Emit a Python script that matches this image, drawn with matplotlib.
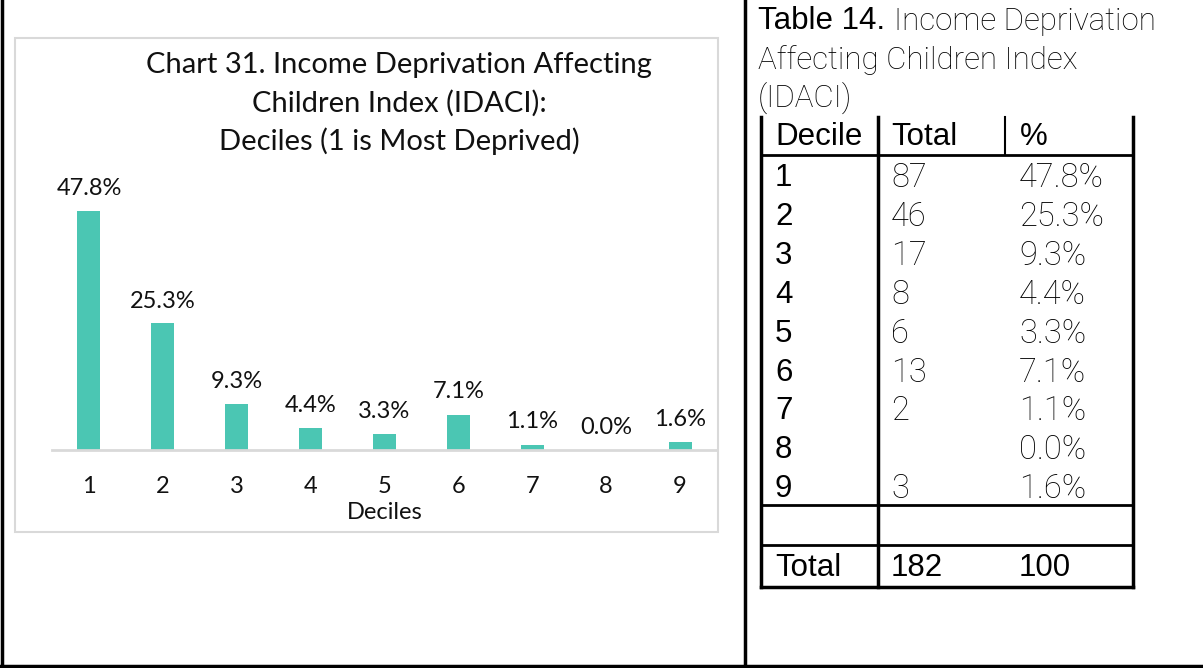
import matplotlib
matplotlib.use('Agg')
import matplotlib.pyplot as plt
from matplotlib.lines import Line2D
from matplotlib.patches import Rectangle

# chart data
deciles = ['1', '2', '3', '4', '5', '6', '7', '8', '9']
pct = [47.8, 25.3, 9.3, 4.4, 3.3, 7.1, 1.1, 0.0, 1.6]
pct_labels = ['47.8%', '25.3%', '9.3%', '4.4%', '3.3%', '7.1%', '1.1%', '0.0%', '1.6%']

# table data
tbl_totals = ['87', '46', '17', '8', '6', '13', '2', '', '3']
tbl_pct = ['47.8%', '25.3%', '9.3%', '4.4%', '3.3%', '7.1%', '1.1%', '0.0%', '1.6%']
grand_total = '182'
grand_pct = '100'

W, H = 1203, 668
fig = plt.figure(figsize=(W / 100, H / 100), dpi=100)

def fx(x):
    return x / W

def fy(y):
    return 1 - y / H

def hline(x0, x1, y, lw=2.5, c='black'):
    fig.add_artist(Line2D([fx(x0), fx(x1)], [fy(y), fy(y)], lw=lw, color=c,
                          transform=fig.transFigure, solid_capstyle='projecting'))

def vline(x, y0, y1, lw=2.5, c='black'):
    fig.add_artist(Line2D([fx(x), fx(x)], [fy(y0), fy(y1)], lw=lw, color=c,
                          transform=fig.transFigure, solid_capstyle='projecting'))

# page borders
vline(1.5, 0, 668)
vline(745, 0, 668)
hline(0, 1203, 666)

# chart box
fig.add_artist(Rectangle((fx(15), fy(532)), fx(718) - fx(15), fy(38) - fy(532),
                         transform=fig.transFigure, fill=False, ec='#D9D9D9', lw=1.5))

cfont = 'Lato'
tcol = '#111111'
for y, line in zip([65, 103, 141], ['Chart 31. Income Deprivation Affecting',
                                    'Children Index (IDACI):',
                                    'Deciles (1 is Most Deprived)']):
    fig.text(fx(399), fy(y), line, ha='center', va='center', fontsize=21, family=cfont, color=tcol)

ax = fig.add_axes([fx(52), fy(450), fx(717) - fx(52), fy(200) - fy(450)])
xs = list(range(1, len(deciles) + 1))
ax.bar(xs, pct, width=0.31, color='#4BC6B3')
for x, v, lab in zip(xs, pct, pct_labels):
    ax.text(x, v + 2.4, lab, ha='center', va='bottom', fontsize=17, family=cfont,
            color=tcol, clip_on=False)
ax.set_xlim(0.5, 9.5)
ax.set_ylim(0, 50)
ax.set_xticks(xs)
ax.set_xticklabels(deciles, fontsize=17, family=cfont, color=tcol)
ax.tick_params(axis='x', length=0, pad=19)
ax.set_yticks([])
for s in ['top', 'left', 'right']:
    ax.spines[s].set_visible(False)
ax.spines['bottom'].set_color('#D9D9D9')
ax.spines['bottom'].set_linewidth(2)
ax.set_xlabel('Deciles', fontsize=17, family=cfont, color=tcol, labelpad=3)
ax.patch.set_alpha(0)

# table title
tfont = 'Liberation Sans'
lfont = 'Roboto'
fs = 22.5
lfs = 23.5
fig.text(fx(758), fy(21), 'Table 14.', ha='left', va='center', fontsize=fs, family=tfont, color='black')
fig.text(fx(894), fy(21), 'Income Deprivation', ha='left', va='center', fontsize=22.5,
         family=lfont, weight='light', color='black')
fig.text(fx(758), fy(60), 'Affecting Children Index', ha='left', va='center', fontsize=22.5,
         family=lfont, weight='light', color='black')
fig.text(fx(758), fy(98), '(IDACI)', ha='left', va='center', fontsize=22.5,
         family=lfont, weight='light', color='black')

# table grid
xl, xc1, xc2, xr = 761, 878, 1005, 1133
vline(xl, 117, 587)
vline(xc1, 117, 587)
vline(xc2, 117, 155, lw=1.5)
vline(xr, 117, 587)
hline(xl, xr, 155, lw=2)
hline(xl, xr, 505, lw=2)
hline(xl, xr, 545, lw=2)
hline(xl, xr, 587, lw=2.5)

fig.text(fx(775), fy(137), 'Decile', ha='left', va='center', fontsize=fs, family=tfont)
fig.text(fx(891), fy(137), 'Total', ha='left', va='center', fontsize=fs, family=tfont)
fig.text(fx(1020), fy(137), '%', ha='left', va='center', fontsize=fs, family=tfont)

row_y0 = 178
row_h = 38.9
for i, (d, t, p) in enumerate(zip(deciles, tbl_totals, tbl_pct)):
    y = row_y0 + i * row_h
    fig.text(fx(775), fy(y), d, ha='left', va='center', fontsize=fs, family=tfont)
    fig.text(fx(891), fy(y), t, ha='left', va='center', fontsize=lfs, family=lfont,
             weight='light', color='black')
    fig.text(fx(1019), fy(y), p, ha='left', va='center', fontsize=lfs, family=lfont,
             weight='light', color='black')

fig.text(fx(775), fy(568), 'Total', ha='left', va='center', fontsize=fs, family=tfont)
fig.text(fx(891), fy(568), grand_total, ha='left', va='center', fontsize=fs, family=tfont)
fig.text(fx(1019), fy(568), grand_pct, ha='left', va='center', fontsize=fs, family=tfont)

fig.savefig('out.png', dpi=100)
